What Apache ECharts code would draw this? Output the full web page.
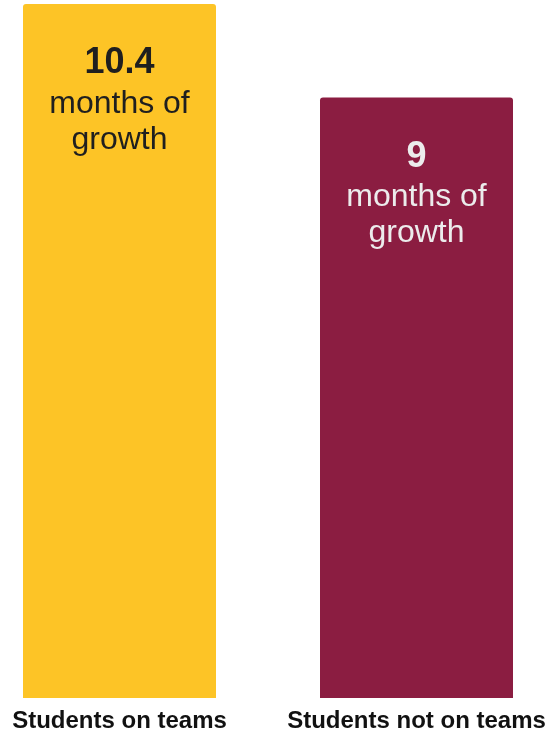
<!DOCTYPE html>
<html>
<head>
<meta charset="utf-8">
<script src="https://cdn.jsdelivr.net/npm/echarts@6/dist/echarts.min.js"></script>
<style>
  html, body { margin: 0; padding: 0; background: #ffffff; }
  #chart { width: 549px; height: 733px; }
</style>
</head>
<body>
<div id="chart"></div>
<script>
// Months of growth by group
const categories = ['Students on teams', 'Students not on teams'];
const monthsOfGrowth = [10.4, 9];

// Bar fills and label colours, one per category
const barColors = ['#FDC426', '#8B1D41'];
const labelColors = ['#1f1f1f', '#ececec'];

const chart = echarts.init(document.getElementById('chart'), null, { renderer: 'canvas' });

chart.setOption({
  animation: false,
  backgroundColor: '#ffffff',
  grid: {
    left: -29,
    right: -16,
    top: 4,
    bottom: 35,
    containLabel: false,
    outerBoundsMode: 'none'
  },
  xAxis: {
    type: 'category',
    data: categories,
    axisLine: { show: false },
    axisTick: { show: false },
    axisLabel: {
      margin: 11,
      fontFamily: 'Liberation Sans, Arial, sans-serif',
      fontWeight: 'bold',
      fontSize: 24,
      color: '#111111',
      interval: 0
    }
  },
  yAxis: {
    type: 'value',
    min: 0,
    max: 10.4,
    show: false,
    splitLine: { show: false }
  },
  series: [{
    type: 'bar',
    barWidth: 193,
    data: monthsOfGrowth.map((v, i) => ({
      value: v,
      itemStyle: { color: barColors[i], borderRadius: [3, 3, 0, 0] },
      label: { color: labelColors[i] }
    })),
    label: {
      show: true,
      position: 'insideTop',
      distance: 37,
      align: 'center',
      fontFamily: 'Liberation Sans, Arial, sans-serif',
      formatter: p => `{v|${p.value}}\n{t|months of}\n{t|growth}`,
      rich: {
        v: { fontSize: 36, fontWeight: 'bold', lineHeight: 45, fontFamily: 'Liberation Sans, Arial, sans-serif' },
        t: { fontSize: 32, lineHeight: 36, fontFamily: 'Liberation Sans, Arial, sans-serif' }
      }
    }
  }]
});
</script>
</body>
</html>
